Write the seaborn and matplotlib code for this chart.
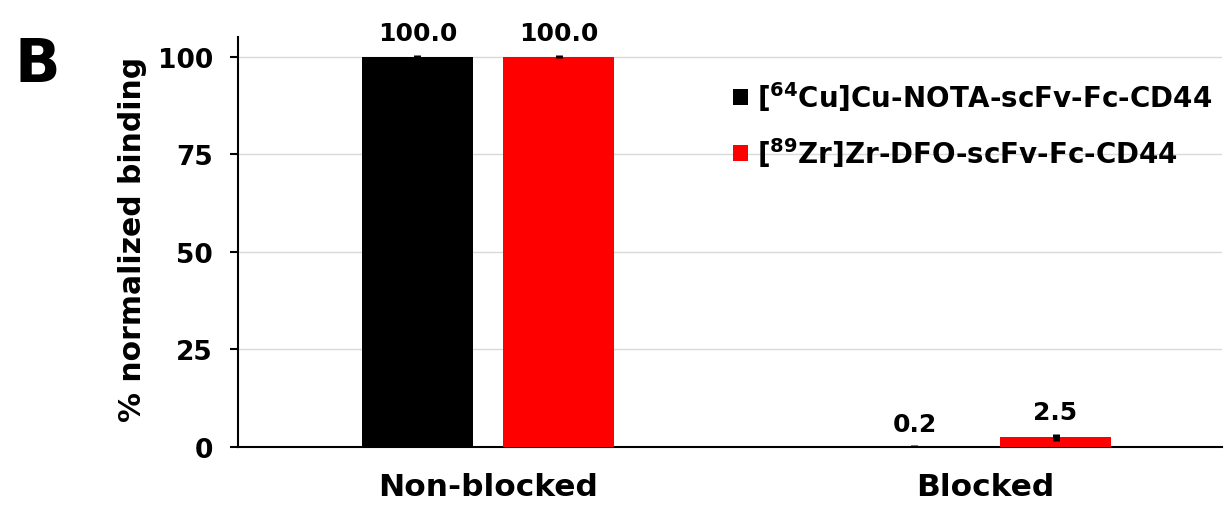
import matplotlib
matplotlib.use("Agg")
import matplotlib.pyplot as plt
import seaborn as sns
import pandas as pd

categories = ["Non-blocked", "Blocked"]
series_names = ["[$^{64}$Cu]Cu-NOTA-scFv-Fc-CD44", "[$^{89}$Zr]Zr-DFO-scFv-Fc-CD44"]
cu_values = [100.0, 0.2]
zr_values = [100.0, 2.5]
cu_errors = [0.4, 0.2]
zr_errors = [0.4, 0.9]
yticks = [0, 25, 50, 75, 100]

sns.set_theme(style="white")
plt.rcParams['font.family'] = ['DejaVu Sans']
plt.rcParams['font.weight'] = 'bold'
plt.rcParams['text.color'] = 'black'
plt.rcParams['axes.labelcolor'] = 'black'
plt.rcParams['xtick.color'] = 'black'
plt.rcParams['ytick.color'] = 'black'
plt.rcParams['mathtext.fontset'] = 'custom'
plt.rcParams['mathtext.rm'] = 'DejaVu Sans:bold'
plt.rcParams['mathtext.it'] = 'DejaVu Sans:bold'
plt.rcParams['mathtext.bf'] = 'DejaVu Sans:bold'

df = pd.DataFrame({
    "category": categories * 2,
    "series": [series_names[0]] * 2 + [series_names[1]] * 2,
    "value": cu_values + zr_values,
})
errs = {series_names[0]: cu_errors, series_names[1]: zr_errors}
vals = {series_names[0]: cu_values, series_names[1]: zr_values}

fig = plt.figure(figsize=(12.25, 5.06), dpi=100)
ax = fig.add_axes([238/1225, 1 - 448/506, (1222-238)/1225, (448-38)/506])

sns.barplot(data=df, x="category", y="value", hue="series", order=categories,
            hue_order=series_names, palette=["#000000", "#ff0000"], saturation=1,
            width=0.568, gap=0.215, errorbar=None, ax=ax, zorder=3,
            linewidth=0, edgecolor="none")

for cont, name in zip(ax.containers, series_names):
    for i, bar in enumerate(cont):
        xc = bar.get_x() + bar.get_width() / 2
        v = vals[name][i]
        e = errs[name][i]
        ax.errorbar(xc, v, yerr=e, fmt="none", ecolor="black", elinewidth=5,
                    capsize=0, zorder=4)
        ax.annotate(f"{v:.1f}", (xc, v + e), xytext=(0, 7), textcoords="offset points",
                    ha="center", va="bottom", fontsize=18, fontweight="bold")

ax.set_xlim(-0.503, 1.477)
ax.set_ylim(0, 105)
ax.set_yticks(yticks)
ax.yaxis.grid(True, color="#d9d9d9", linewidth=1, zorder=0)
ax.set_axisbelow(True)
for s in ["top", "right"]:
    ax.spines[s].set_visible(False)
ax.spines["left"].set_color("black")
ax.spines["bottom"].set_color("black")
ax.spines["left"].set_linewidth(1.5)
ax.spines["bottom"].set_linewidth(1.5)
ax.tick_params(axis="y", left=True, length=6, width=1.5, color="black", labelsize=19, pad=12)
ax.tick_params(axis="x", bottom=False, labelsize=22.5, pad=12)
for lab in ax.get_xticklabels() + ax.get_yticklabels():
    lab.set_fontweight("bold")
ax.set_xlabel("")
ax.set_ylabel("% normalized binding", fontsize=21.5, fontweight="bold")
ax.yaxis.set_label_coords((147 - 238) / 984, (448 - 239) / 410)

leg = ax.legend(loc="upper left", bbox_to_anchor=((722 - 238) / 984, 0.925), frameon=False,
                fontsize=20, handlelength=0.55, handleheight=0.55, handletextpad=0.3,
                labelspacing=0.8, borderaxespad=0)
for t in leg.get_texts():
    t.set_fontweight("bold")

fig.text(37/1225, 1 - 66/506, "B", fontsize=43, fontweight="bold", ha="center", va="center")

fig.savefig("out.png", dpi=100)
